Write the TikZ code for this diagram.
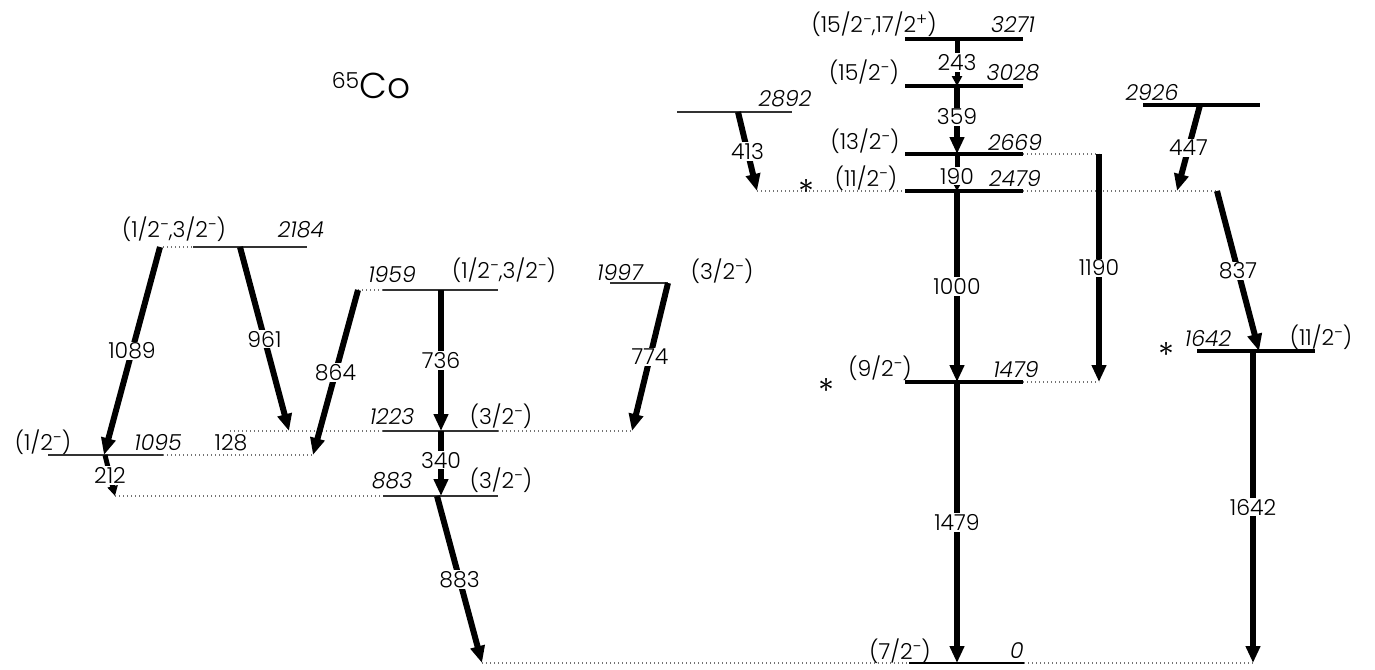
\documentclass[tikz,border=0pt]{standalone}
\usepackage{fontspec}
\setmainfont{Poppins}[UprightFont=* Light, ItalicFont=* Light Italic]
\usetikzlibrary{arrows.meta}
\newcommand\smn{\raisebox{0.55ex}{\fontsize{17}{17}\selectfont −}}
\newcommand\spl{\raisebox{0.55ex}{\fontsize{17}{17}\selectfont +}}
\begin{document}
\begin{tikzpicture}[x=1pt,y=-1pt,
  thinlev/.style={line width=1.4pt,black!80},
  thicklev/.style={line width=4.5pt,black},
  dots/.style={line width=1.2pt,black!55,dash pattern=on 1.2pt off 2.8pt},
  gam/.style={line width=6pt,-{Triangle[width=14pt,length=17pt]}},
  smallgam/.style={line width=5pt,-{Triangle[width=10pt,length=10pt]}},
  glab/.style={fill=white,inner sep=1pt,font=\fontsize{22}{22}\selectfont},
  txt/.style={inner sep=0pt,font=\fontsize{22}{22}\selectfont},
  star/.style={inner sep=0pt,font=\fontsize{34}{34}\selectfont},
  en/.style={inner sep=0pt,font=\fontsize{22}{22}\selectfont\itshape}]
\useasboundingbox (0,0) rectangle (1375,669);

% ---------- level coordinates ----------
\coordinate (a2184d) at (163,247); \coordinate (a2184l) at (193,247); \coordinate (a2184r) at (307,247);
\coordinate (a1095l) at (48,455); \coordinate (a1095r) at (163,455); \coordinate (a1095d) at (313,455);
\coordinate (a1959d) at (358,290); \coordinate (a1959l) at (383,290); \coordinate (a1959r) at (498,290);
\coordinate (a1223d) at (230,431); \coordinate (a1223l) at (383,431); \coordinate (a1223r) at (498,431); \coordinate (a1223e) at (632,431);
\coordinate (a883d) at (115,496); \coordinate (a883l) at (383,496); \coordinate (a883r) at (498,496);
\coordinate (a1997l) at (610,283); \coordinate (a1997r) at (668,283);
\coordinate (a2892l) at (677,112); \coordinate (a2892r) at (792,112);
\coordinate (a3271l) at (905,39);  \coordinate (a3271r) at (1023,39);
\coordinate (a3028l) at (905,86);  \coordinate (a3028r) at (1023,86);
\coordinate (a2669l) at (905,154); \coordinate (a2669r) at (1023,154); \coordinate (a2669d) at (1099,154);
\coordinate (a2479d) at (757,191); \coordinate (a2479l) at (905,191); \coordinate (a2479r) at (1023,191); \coordinate (a2479e) at (1217,191);
\coordinate (a1479l) at (905,382); \coordinate (a1479r) at (1023,382); \coordinate (a1479d) at (1099,382);
\coordinate (a2926l) at (1143,105); \coordinate (a2926r) at (1260,105);
\coordinate (a1642l) at (1197,351); \coordinate (a1642r) at (1315,351);
\coordinate (a0d) at (482,663); \coordinate (a0l) at (909,663); \coordinate (a0r) at (1024,663); \coordinate (a0e) at (1254,663);

% ---------- levels ----------
\draw[dots] (a2184d) -- (a2184l);
\draw[thinlev] (a2184l) -- (a2184r);
\draw[thinlev] (a1095l) -- (a1095r);
\draw[dots] (a1095r) -- (a1095d);
\draw[dots] (a1959d) -- (a1959l);
\draw[thinlev] (a1959l) -- (a1959r);
\draw[dots] (a1223d) -- (a1223l);
\draw[thinlev] (a1223l) -- (a1223r);
\draw[dots] (a1223r) -- (a1223e);
\draw[dots] (a883d) -- (a883l);
\draw[thinlev] (a883l) -- (a883r);
\draw[thinlev] (a1997l) -- (a1997r);
\draw[thinlev] (a2892l) -- (a2892r);
\draw[thicklev] (a3271l) -- (a3271r);
\draw[thicklev] (a3028l) -- (a3028r);
\draw[thicklev] (a2669l) -- (a2669r);
\draw[dots] (a2669r) -- (a2669d);
\draw[dots] (a2479d) -- (a2479l);
\draw[thicklev] (a2479l) -- (a2479r);
\draw[dots] (a2479r) -- (a2479e);
\draw[thicklev] (a1479l) -- (a1479r);
\draw[dots] (a1479r) -- (a1479d);
\draw[thicklev] (a2926l) -- (a2926r);
\draw[thicklev] (a1642l) -- (a1642r);
\draw[dots] (a0d) -- (a0l);
\draw[line width=2pt] (a0l) -- (a0r);
\draw[dots] (a0r) -- (a0e);

% ---------- gamma start/end points ----------
\coordinate (s1089) at (160,247); \coordinate (e1089) at (104,455);
\coordinate (s961) at (240,247);  \coordinate (e961) at (289,431);
\coordinate (s864) at (358,290);  \coordinate (e864) at (313,455);
\coordinate (s736) at (441,290);  \coordinate (e736) at (441,431);
\coordinate (s774) at (668,283);  \coordinate (e774) at (632,431);
\coordinate (s340) at (441,431);  \coordinate (e340) at (441,496);
\coordinate (s212) at (105,455);  \coordinate (e212) at (115,496);
\coordinate (s883) at (437,496);  \coordinate (e883) at (482,663);
\coordinate (s413) at (738,112);  \coordinate (e413) at (757,191);
\coordinate (s243) at (957,39);   \coordinate (e243) at (957,86);
\coordinate (s359) at (957,86);   \coordinate (e359) at (957,154);
\coordinate (s190) at (957,154);  \coordinate (e190) at (957,191);
\coordinate (s1000) at (957,191); \coordinate (e1000) at (957,382);
\coordinate (s1190) at (1099,154);\coordinate (e1190) at (1099,382);
\coordinate (s447) at (1200,105); \coordinate (e447) at (1177,191);
\coordinate (s837) at (1217,191); \coordinate (e837) at (1259,351);
\coordinate (s1479) at (957,382); \coordinate (e1479) at (957,663);
\coordinate (s1642) at (1253,351);\coordinate (e1642) at (1253,663);

% ---------- gammas ----------
\draw[gam] (s1089) -- node[glab] (t1089) {1089} (e1089);
\draw[gam] (s961) -- node[glab] (t961) {961} (e961);
\draw[gam] (s864) -- node[glab] (t864) {864} (e864);
\draw[gam] (s736) -- node[glab] (t736) {736} (e736);
\draw[gam] (s774) -- node[glab] (t774) {774} (e774);
\draw[gam] (s340) -- node[glab,pos=0.45] (t340) {340} (e340);
\draw[smallgam] (s212) -- node[glab,pos=0.5] (t212) {212} (e212);
\draw[gam] (s883) -- node[glab] (t883) {883} (e883);
\draw[gam] (s413) -- node[glab] (t413) {413} (e413);
\draw[smallgam] (s243) -- node[glab,pos=0.5] (t243) {243} (e243);
\draw[gam] (s359) -- node[glab,pos=0.45] (t359) {359} (e359);
\draw[smallgam] (s190) -- node[glab,pos=0.6] (t190) {190} (e190);
\draw[gam] (s1000) -- node[glab] (t1000) {1000} (e1000);
\draw[gam] (s1190) -- node[glab] (t1190) {1190} (e1190);
\draw[gam] (s447) -- node[glab] (t447) {447} (e447);
\draw[gam] (s837) -- node[glab] (t837) {837} (e837);
\draw[gam] (s1479) -- node[glab] (t1479) {1479} (e1479);
\draw[gam] (s1642) -- node[glab] (t1642) {1642} (e1642);

% ---------- level labels ----------
\node[txt] (j2184) at (174,229) {(1/2\smn,3/2\smn)};
\node[en]  (x2184) at (301,230) {2184};
\node[txt] (j1095) at (43,442) {(1/2\smn)};
\node[en]  (x1095) at (158,442) {1095};
\node[txt] (t128)  at (231,443) {128};
\node[en]  (x1959) at (392,274) {1959};
\node[txt] (j1959) at (504,270) {(1/2\smn,3/2\smn)};
\node[en]  (x1997) at (620,272) {1997};
\node[txt] (j1997) at (722,271) {(3/2\smn)};
\node[en]  (x1223) at (392,417) {1223};
\node[txt] (j1223) at (501,416) {(3/2\smn)};
\node[en]  (x883)  at (392,481) {883};
\node[txt] (j883)  at (501,480) {(3/2\smn)};
\node[en]  (x2892) at (785,99) {2892};
\node[txt] (j3271) at (874,24) {(15/2\smn,17/2\spl)};
\node[en]  (x3271) at (1013,25) {3271};
\node[txt] (j3028) at (864,72) {(15/2\smn)};
\node[en]  (x3028) at (1013,73) {3028};
\node[txt] (j2669) at (865,141) {(13/2\smn)};
\node[en]  (x2669) at (1015,142) {2669};
\node[star] (st2479) at (806,192) {*};
\node[txt] (j2479) at (866,178) {(11/2\smn)};
\node[en]  (x2479) at (1015,179) {2479};
\node[en]  (x2926) at (1152,92) {2926};
\node[star] (st1642) at (1166,355) {*};
\node[en]  (x1642) at (1208,338) {1642};
\node[txt] (j1642) at (1321,337) {(11/2\smn)};
\node[star] (st1479) at (826,391) {*};
\node[txt] (j1479) at (880,368) {(9/2\smn)};
\node[en]  (x1479) at (1016,369) {1479};
\node[txt] (j0) at (900,651) {(7/2\smn)};
\node[en]  (x0) at (1017,651) {0};
\node[inner sep=0pt,font=\fontsize{36}{36}\selectfont] (nuc) at (371,86) {\raisebox{0.5ex}{\fontsize{22}{22}\selectfont 65}Co};
\end{tikzpicture}
\end{document}
